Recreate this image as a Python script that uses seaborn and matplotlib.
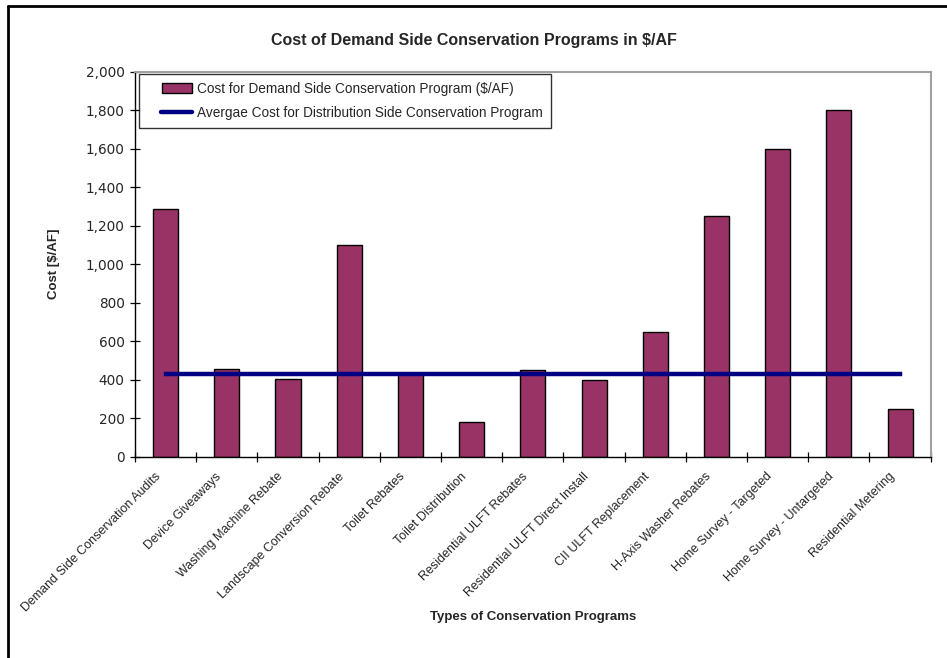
import matplotlib
matplotlib.use("Agg")
import matplotlib.pyplot as plt
import matplotlib.transforms as mtransforms
import seaborn as sns
import numpy as np
import pandas as pd
from matplotlib.patches import Patch
from matplotlib.lines import Line2D
from matplotlib.legend_handler import HandlerPatch, HandlerLine2D
from matplotlib.ticker import FuncFormatter, FixedLocator

categories = [
    "Demand Side Conservation Audits",
    "Device Giveaways",
    "Washing Machine Rebate",
    "Landscape Conversion Rebate",
    "Toilet Rebates",
    "Toilet Distribution",
    "Residential ULFT Rebates",
    "Residential ULFT Direct Install",
    "CII ULFT Replacement",
    "H-Axis Washer Rebates",
    "Home Survey - Targeted",
    "Home Survey - Untargeted",
    "Residential Metering",
]
demand_cost = [1285, 457, 403, 1100, 430, 182, 450, 400, 650, 1250, 1600, 1800, 250]
avg_distribution_cost = [430] * len(categories)
y_ticks = [0, 200, 400, 600, 800, 1000, 1200, 1400, 1600, 1800, 2000]

bar_label = "Cost for Demand Side Conservation Program ($/AF)"
line_label = "Avergae Cost for Distribution Side Conservation Program"

sns.set_theme(style="white")
plt.rcParams["font.family"] = ["Liberation Sans", "DejaVu Sans"]

df = pd.DataFrame({"Program": categories, "Cost": demand_cost,
                   "Avg": avg_distribution_cost, "pos": np.arange(len(categories))})

fig = plt.figure(figsize=(9.47, 6.58), dpi=100)
ax = fig.add_axes([135 / 947, 1 - 456.7 / 658, (930.7 - 135) / 947, (456.7 - 71.7) / 658])

bar_color = "#993366"
line_color = "#000080"

sns.barplot(data=df, x="Program", y="Cost", color=bar_color, width=0.41,
            edgecolor="black", linewidth=1.0, saturation=1, ax=ax)
sns.lineplot(data=df, x="pos", y="Avg", color=line_color, linewidth=3.2, ax=ax,
             solid_capstyle="projecting")

ax.set_xlim(-0.5, len(categories) - 0.5)
ax.set_ylim(0, 2000)
ax.set_yticks(y_ticks)
ax.yaxis.set_major_formatter(FuncFormatter(lambda v, p: f"{int(v):,}"))

ax.set_xticks(np.arange(len(categories)))
ax.xaxis.set_minor_locator(FixedLocator(np.arange(len(categories) + 1) - 0.5))
ax.tick_params(axis="x", which="major", length=0, pad=13)
ax.tick_params(axis="x", which="minor", direction="inout", length=7, width=0.9, color="black", bottom=True)
ax.tick_params(axis="y", which="major", direction="inout", length=7, width=0.9, color="black", left=True,
               pad=4)
ax.set_xticklabels(categories, rotation=45, ha="right", va="center",
                   rotation_mode="anchor", fontsize=9)
for lbl in ax.get_yticklabels():
    lbl.set_family(["DejaVu Sans"])
    lbl.set_fontsize(9.8)

for s in ["left", "bottom"]:
    ax.spines[s].set_color("black")
    ax.spines[s].set_linewidth(1.0)
for s in ["top", "right"]:
    ax.spines[s].set_color("#a0a0a0")
    ax.spines[s].set_linewidth(1.5)

ax.set_xlabel("Types of Conservation Programs", fontsize=9.5, fontweight="bold")
ax.set_ylabel("Cost [$/AF]", fontsize=9.5, fontweight="bold")
ax.xaxis.set_label_coords(0.5, (456.7 - 611) / 385)
ax.yaxis.set_label_coords((60 - 135) / 795.7, 0.5)

fig.text(0.5, 1 - 40 / 658, "Cost of Demand Side Conservation Programs in $/AF",
         ha="center", va="center", fontsize=11.5, fontweight="bold")

leg_fs = 9.8
handles = [Patch(facecolor=bar_color, edgecolor="black", linewidth=1.0),
           Line2D([0], [0], color=line_color, linewidth=3.2)]
leg = ax.legend(handles, [bar_label, line_label], loc="upper left",
                bbox_to_anchor=((139 - 135) / 795.7, 1 - (73.5 - 71.7) / 385),
                frameon=True, fancybox=False, fontsize=leg_fs, handlelength=3.3,
                handleheight=0.75, handletextpad=0.35, borderpad=0.6, labelspacing=0.78,
                borderaxespad=0,
                handler_map={Patch: HandlerPatch(xpad=1.1), Line2D: HandlerLine2D(xpad=1.0)})
leg.get_frame().set_edgecolor("black")
leg.get_frame().set_linewidth(1.0)

# figure frame (top and left edges)
fig.add_artist(Line2D([8 / 947, 1.0], [1 - 6 / 658, 1 - 6 / 658], color="black", linewidth=2,
                      transform=fig.transFigure))
fig.add_artist(Line2D([8 / 947, 8 / 947], [0.0, 1 - 6 / 658], color="black", linewidth=2,
                      transform=fig.transFigure))

# shift the rotated category labels slightly left (Excel-like placement)
offset = mtransforms.ScaledTranslation(-7 / 100, 0, fig.dpi_scale_trans)
for tick in ax.xaxis.get_major_ticks():
    tick.label1.set_transform(tick.label1.get_transform() + offset)

fig.savefig("out.png", dpi=100)
